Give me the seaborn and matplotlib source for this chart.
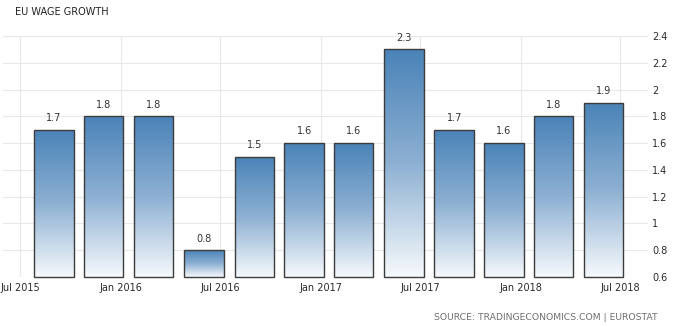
import numpy as np
import pandas as pd
import matplotlib
matplotlib.use("Agg")
import matplotlib.pyplot as plt
import matplotlib.dates as mdates
from matplotlib.colors import LinearSegmentedColormap
import seaborn as sns

# ---- data ----
quarters = ["2015-09-01", "2015-12-01", "2016-03-01", "2016-06-01",
            "2016-09-01", "2016-12-01", "2017-03-01", "2017-06-01",
            "2017-09-01", "2017-12-01", "2018-03-01", "2018-06-01"]
wage_growth = [1.7, 1.8, 1.8, 0.8, 1.5, 1.6, 1.6, 2.3, 1.7, 1.6, 1.8, 1.9]
tick_dates = ["2015-07-01", "2016-01-01", "2016-07-01", "2017-01-01",
              "2017-07-01", "2018-01-01", "2018-07-01"]
tick_labels = ["Jul 2015", "Jan 2016", "Jul 2016", "Jan 2017",
               "Jul 2017", "Jan 2018", "Jul 2018"]
y_ticks = [0.6, 0.8, 1, 1.2, 1.4, 1.6, 1.8, 2, 2.2, 2.4]
y_floor = 0.6

df = pd.DataFrame({"x": mdates.date2num(pd.to_datetime(quarters)),
                   "value": wage_growth})

sns.set_style("white")
plt.rcParams["font.family"] = ["DejaVu Sans"]

fig = plt.figure(figsize=(6.74, 3.27), dpi=100)
ax = fig.add_axes([3/674, 1-277/327, (648-3)/674, (277-36)/327])

sns.barplot(data=df, x="x", y="value", native_scale=True, width=0.8,
            ax=ax, facecolor="none", edgecolor="#3c3c3c", linewidth=1.0,
            zorder=3)

xl0 = mdates.date2num(pd.Timestamp("2015-05-31"))
xl1 = mdates.date2num(pd.Timestamp("2018-08-21"))

cmap = LinearSegmentedColormap.from_list("g", ["#f6f9fc", "#8db0d2", "#4a83b8"])
grad = np.linspace(0, 1, 256).reshape(-1, 1)
for p in list(ax.patches):
    x0, w = p.get_x(), p.get_width()
    top = p.get_y() + p.get_height()
    # bars rise from the axis floor, as in the reference
    p.set_y(y_floor)
    p.set_height(top - y_floor)
    p.set_clip_on(False)
    im = ax.imshow(grad, cmap=cmap, aspect="auto", origin="lower",
                   extent=[x0, x0 + w, y_floor, top], zorder=2)
    im.set_clip_path(p)
    ax.text(x0 + w/2, top + 0.05, f"{top:.1f}", ha="center",
            va="bottom", fontsize=7, color="#333333", zorder=4)
ax.set_xlim(xl0, xl1)
ax.set_ylim(0.6, 2.4)

ax.set_xticks(mdates.date2num(pd.to_datetime(tick_dates)))
ax.set_xticklabels(tick_labels)
ax.set_yticks(y_ticks)
ax.set_yticklabels([f"{v:g}" for v in y_ticks])
ax.yaxis.tick_right()
ax.tick_params(axis="both", length=0, labelsize=7, colors="#2a2a2a")
ax.tick_params(axis="y", pad=3)
ax.tick_params(axis="x", pad=4)
ax.set_xlabel("")
ax.set_ylabel("")
ax.grid(True, color="#e8e8e8", linewidth=0.8, zorder=0)
ax.set_axisbelow(True)
for s in ax.spines.values():
    s.set_visible(False)

fig.text(15/674, 1-12/327, "EU WAGE GROWTH", fontsize=7, color="#222222",
         ha="left", va="center")
fig.text(658/674, 1-318/327, "SOURCE: TRADINGECONOMICS.COM | EUROSTAT",
         fontsize=6.7, color="#707070", ha="right", va="center")

fig.savefig("out.png", dpi=100)
